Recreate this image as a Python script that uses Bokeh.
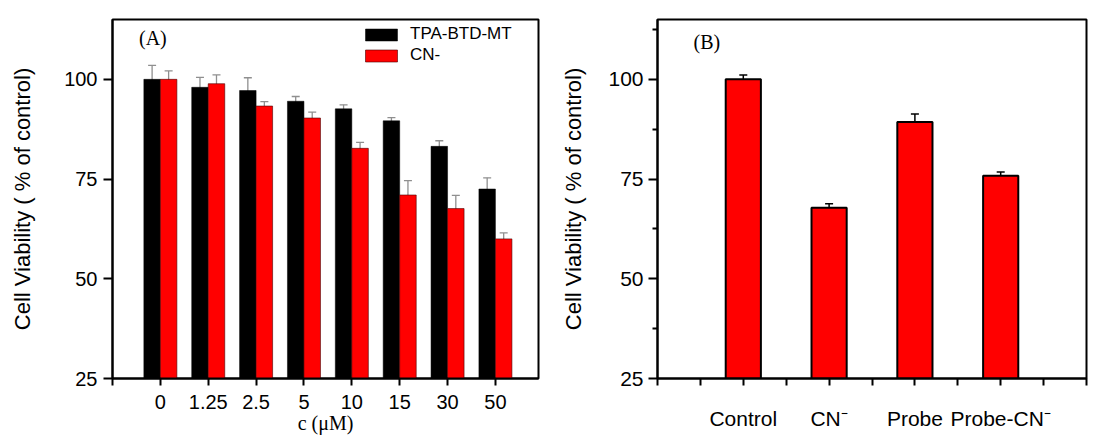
from bokeh.plotting import figure
from bokeh.models import (FixedTicker, Whisker, ColumnDataSource, Label, Legend,
                          LegendItem, TeeHead, Range1d)
from bokeh.layouts import row
from bokeh.embed import file_html
from bokeh.resources import INLINE

# ---------------- data ----------------
conc_labels = ["0", "1.25", "2.5", "5", "10", "15", "30", "50"]
tpa_vals = [100.0, 98.0, 97.2, 94.5, 92.6, 89.6, 83.2, 72.5]
tpa_err = [3.5, 2.5, 3.2, 1.2, 1.0, 0.8, 1.4, 2.8]
cn_vals = [100.0, 98.9, 93.3, 90.3, 82.7, 71.0, 67.6, 60.0]
cn_err = [2.1, 2.2, 1.1, 1.5, 1.5, 3.6, 3.3, 1.5]

groups_b = ["Control", "CN\u207b", "Probe", "Probe-CN\u207b"]
vals_b = [100.0, 67.8, 89.3, 75.8]
err_b = [1.1, 1.0, 2.0, 1.0]

y_ticks = [25, 50, 75, 100]
y_minor_b = [37.5, 62.5, 87.5, 112.5]
y_title = "Cell Viability ( % of control)"
x_title_a = "c (\u03bcM)"

SANS = "Liberation Sans"
SERIF = "Liberation Serif"


def style_axes(p):
    for ax in (p.xaxis[0], p.yaxis[0]):
        ax.axis_line_width = 2
        ax.axis_line_color = "black"
        ax.major_tick_line_width = 2
        ax.major_tick_line_color = "black"
        ax.major_tick_in = 0
        ax.minor_tick_in = 0
        ax.major_label_text_font = SANS
        ax.major_label_text_color = "black"
        ax.axis_label_text_font = SANS
        ax.axis_label_text_font_style = "normal"
        ax.axis_label_text_color = "black"
    p.outline_line_color = "black"
    p.outline_line_width = 2
    p.xgrid.visible = False
    p.ygrid.visible = False
    p.background_fill_color = "white"
    p.border_fill_color = "white"


# ---------------- panel A ----------------
n = len(conc_labels)
idx = list(range(n))
bw = 0.345
srcA1 = ColumnDataSource(dict(x=[i - bw / 2 for i in idx], top=tpa_vals,
                              upper=[v + e for v, e in zip(tpa_vals, tpa_err)],
                              lower=[v - e for v, e in zip(tpa_vals, tpa_err)]))
srcA2 = ColumnDataSource(dict(x=[i + bw / 2 for i in idx], top=cn_vals,
                              upper=[v + e for v, e in zip(cn_vals, cn_err)],
                              lower=[v - e for v, e in zip(cn_vals, cn_err)]))

pA = figure(width=550, height=439, x_range=Range1d(-1, 7.9), y_range=Range1d(25, 115),
            output_backend="svg", toolbar_location=None,
            min_border_left=112, min_border_right=12, min_border_top=15, min_border_bottom=61)
style_axes(pA)

rb = pA.vbar(x="x", top="top", bottom=0, width=bw, source=srcA1,
             fill_color="black", line_color="black", line_width=0.5)
rr = pA.vbar(x="x", top="top", bottom=0, width=bw, source=srcA2,
             fill_color="#ff0000", line_color="#4a0000", line_width=0.6)

for s in (srcA1, srcA2):
    pA.add_layout(Whisker(source=s, base="x", upper="upper", lower="lower",
                          line_color="#8f8f8f", line_width=1.3,
                          upper_head=TeeHead(size=8, line_color="#8f8f8f", line_width=1.3),
                          lower_head=TeeHead(size=8, line_color="#8f8f8f", line_width=1.3)))

pA.xaxis.ticker = FixedTicker(ticks=[-1] + idx)
ov = {i: lab for i, lab in zip(idx, conc_labels)}
ov[-1] = ""
pA.xaxis.major_label_overrides = ov
pA.xaxis.major_tick_out = 7
pA.xaxis.major_label_standoff = 9
pA.xaxis.major_label_text_font_size = "20px"
pA.xaxis.minor_tick_line_color = None
pA.xaxis.axis_label = x_title_a
pA.xaxis.axis_label_text_font = SERIF
pA.xaxis.axis_label_text_font_size = "20px"
pA.xaxis.axis_label_standoff = 0

pA.yaxis.ticker = FixedTicker(ticks=y_ticks)
pA.yaxis.major_tick_out = 9
pA.yaxis.major_label_standoff = 6
pA.yaxis.major_label_text_font_size = "20px"
pA.yaxis.minor_tick_line_color = None
pA.yaxis.axis_label = y_title
pA.yaxis.axis_label_text_font_size = "22px"
pA.yaxis.axis_label_standoff = 26

legend = Legend(items=[LegendItem(label="TPA-BTD-MT", renderers=[rb]),
                       LegendItem(label="CN-", renderers=[rr])],
                location=(249, 313), glyph_width=40, glyph_height=15,
                label_height=15, spacing=1, padding=0, margin=0,
                label_standoff=9, border_line_color=None,
                background_fill_alpha=0, label_text_font=SANS,
                label_text_font_size="17px", label_text_color="black")
pA.add_layout(legend)

pA.add_layout(Label(x=-0.446, y=110.3, text="(A)", text_font=SERIF,
                    text_font_size="20px", text_baseline="middle", text_align="left",
                    text_color="black"))

# ---------------- panel B ----------------
pos_b = [i + 1 for i in range(len(groups_b))]
srcB = ColumnDataSource(dict(x=pos_b, top=vals_b,
                             upper=[v + e for v, e in zip(vals_b, err_b)],
                             lower=[v - e for v, e in zip(vals_b, err_b)]))

pB = figure(width=552, height=439, x_range=Range1d(0, 5), y_range=Range1d(25, 115),
            output_backend="svg", toolbar_location=None,
            min_border_left=107, min_border_right=16, min_border_top=19, min_border_bottom=57)
style_axes(pB)

pB.vbar(x="x", top="top", bottom=0, width=0.41, source=srcB,
        fill_color="#ff0000", line_color="black", line_width=2)
pB.add_layout(Whisker(source=srcB, base="x", upper="upper", lower="lower",
                      line_color="black", line_width=1.5,
                      upper_head=TeeHead(size=8, line_color="black", line_width=1.5),
                      lower_head=TeeHead(size=8, line_color="black", line_width=1.5)))

xt_b = [k * 0.5 for k in range(11)]
pB.xaxis.ticker = FixedTicker(ticks=xt_b)
ovb = {t: "" for t in xt_b}
for pos, lab in zip(pos_b, groups_b):
    ovb[pos] = lab
pB.xaxis.major_label_overrides = ovb
pB.xaxis.major_tick_out = 7
pB.xaxis.major_label_standoff = 21
pB.xaxis.major_label_text_font_size = "21px"
pB.xaxis.minor_tick_line_color = None

pB.yaxis.ticker = FixedTicker(ticks=y_ticks, minor_ticks=y_minor_b)
pB.yaxis.major_tick_out = 9
pB.yaxis.minor_tick_out = 5
pB.yaxis.minor_tick_line_width = 2
pB.yaxis.minor_tick_line_color = "black"
pB.yaxis.major_label_standoff = 5
pB.yaxis.major_label_text_font_size = "21px"
pB.yaxis.axis_label = y_title
pB.yaxis.axis_label_text_font_size = "22px"
pB.yaxis.axis_label_standoff = 19

pB.add_layout(Label(x=0.42, y=109.4, text="(B)", text_font=SERIF,
                    text_font_size="20px", text_baseline="middle", text_align="left",
                    text_color="black"))

layout = row(pA, pB)
open("out.html", "w").write(file_html(layout, INLINE))
